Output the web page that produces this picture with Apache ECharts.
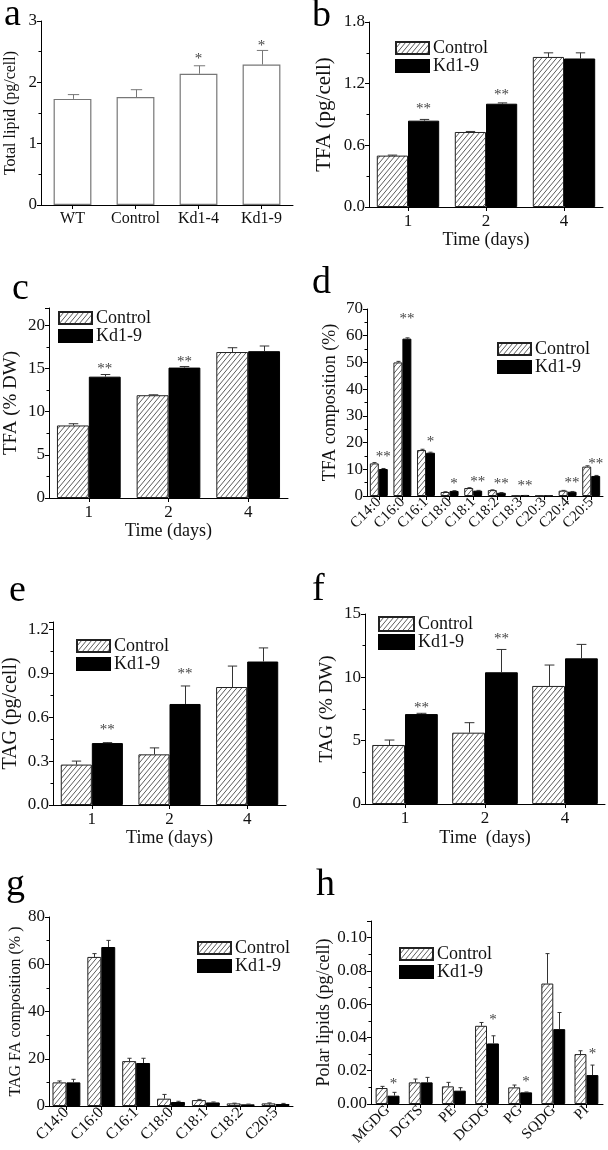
<!DOCTYPE html>
<html><head><meta charset="utf-8">
<script src="https://cdn.jsdelivr.net/npm/echarts@6/dist/echarts.min.js"></script>
<style>html,body{margin:0;padding:0;background:#fff}#c{width:608px;height:1150px}</style>
</head><body><div id="c"></div>
<script>
// ---------------- DATA ----------------
// a: total lipid
const catsA = ['WT', 'Control', 'Kd1-4', 'Kd1-9'];
const lipidA = [1.73, 1.76, 2.14, 2.29];
const lipidASd = [0.07, 0.12, 0.13, 0.23];
const sigA = ['', '', '*', '*'];
const sigAY = [null, null, 2.45, 2.66];

const days = ['1', '2', '4'];
// b: TFA (pg/cell)
const tfaCellCtrl = [0.50, 0.73, 1.46];
const tfaCellCtrlSd = [0.005, 0.005, 0.04];
const tfaCellKd = [0.84, 1.005, 1.445];
const tfaCellKdSd = [0.012, 0.008, 0.055];
const sigB = ['**', '**', ''];
const sigBY = [0.99, 1.13, null];
// c: TFA (% DW)
const tfaDwCtrl = [8.4, 11.9, 16.9];
const tfaDwCtrlSd = [0.2, 0.05, 0.5];
const tfaDwKd = [14.05, 15.1, 17.0];
const tfaDwKdSd = [0.25, 0.12, 0.6];
const sigC = ['**', '**', ''];
const sigCY = [15.4, 16.15, null];
// d: TFA composition
const faCats = ['C14:0', 'C16:0', 'C16:1', 'C18:0', 'C18:1', 'C18:2', 'C18:3', 'C20:3', 'C20:4', 'C20:5'];
const tfaCompCtrl = [12.2, 50.0, 17.2, 1.5, 3.0, 2.2, 0.1, 0.1, 2.0, 11.0];
const tfaCompCtrlSd = [0.3, 0.4, 0.3, 0.1, 0.1, 0.1, 0.02, 0.02, 0.1, 0.3];
const tfaCompKd = [10.1, 58.9, 16.2, 1.9, 2.0, 1.2, 0.2, 0.1, 1.6, 7.5];
const tfaCompKdSd = [0.2, 0.3, 0.2, 0.1, 0.1, 0.1, 0.02, 0.02, 0.1, 0.2];
const sigD = ['**', '**', '*', '*', '**', '**', '**', '', '**', '**'];
const sigDY = [16, 67.9, 21.6, 6, 6.6, 6, 5.4, null, 6.25, 13.5];
// e: TAG (pg/cell)
const tagCellCtrl = [0.276, 0.346, 0.806];
const tagCellCtrlSd = [0.024, 0.044, 0.143];
const tagCellKd = [0.423, 0.69, 0.98];
const tagCellKdSd = [0.003, 0.123, 0.093];
const sigE = ['**', '**', ''];
const sigEY = [0.54, 0.92, null];
// f: TAG (% DW)
const tagDwCtrl = [4.66, 5.63, 9.32];
const tagDwCtrlSd = [0.39, 0.79, 1.65];
const tagDwKd = [7.1, 10.4, 11.5];
const tagDwKdSd = [0.06, 1.8, 1.1];
const sigF = ['**', '**', ''];
const sigFY = [7.9, 13.3, null];
// g: TAG FA composition
const tagFaCats = ['C14:0', 'C16:0', 'C16:1', 'C18:0', 'C18:1', 'C18:2', 'C20:5'];
const tagFaCtrl = [10.0, 63.1, 19.0, 3.1, 2.5, 1.1, 1.1];
const tagFaCtrlSd = [0.6, 1.4, 1.2, 1.8, 0.3, 0.1, 0.2];
const tagFaKd = [10.0, 67.3, 18.2, 1.7, 1.5, 0.7, 0.85];
const tagFaKdSd = [1.3, 2.8, 2.0, 0.3, 0.2, 0.1, 0.25];
// h: polar lipids
const polarCats = ['MGDG', 'DGTS', 'PE', 'DGDG', 'PG', 'SQDG', 'PI'];
const polarCtrl = [0.0096, 0.013, 0.0106, 0.047, 0.010, 0.0724, 0.030];
const polarCtrlSd = [0.001, 0.002, 0.0024, 0.002, 0.0014, 0.018, 0.002];
const polarKd = [0.005, 0.013, 0.008, 0.0364, 0.007, 0.045, 0.0174];
const polarKdSd = [0.002, 0.003, 0.0018, 0.0046, 0.0002, 0.010, 0.006];
const sigH = ['*', '', '', '*', '*', '', '*'];
const sigHY = [0.0144, null, null, 0.053, 0.0154, null, 0.0324];

// ---------------- STYLE / BUILD ----------------
const FONT = '"Liberation Serif", "Times New Roman", serif';
const TXT = '#111';

function hatchCanvas() {
  const w = 5, h = 6;
  const c = document.createElement('canvas');
  c.width = w; c.height = h;
  const g = c.getContext('2d');
  g.fillStyle = '#fff'; g.fillRect(0, 0, w, h);
  g.strokeStyle = '#4a4a4a'; g.lineWidth = 0.9;
  g.beginPath();
  [-w, 0, w].forEach(dx => { g.moveTo(dx, h); g.lineTo(dx + w, 0); });
  g.stroke();
  return c;
}
const HATCH = { image: hatchCanvas(), repeat: 'repeat' };
const ctrlStyle = { color: HATCH, borderColor: '#222', borderWidth: 1 };
const kdStyle = { color: '#000', borderColor: '#000', borderWidth: 1 };
const whiteStyle = { color: '#fff', borderColor: '#777', borderWidth: 1.2 };

const option = {
  animation: false, backgroundColor: '#fff',
  grid: [], xAxis: [], yAxis: [], series: [], legend: [], graphic: []
};

function errSeries(idx, vals, sds, off, n, gapFrac, col) {
  return {
    type: 'custom', xAxisIndex: idx, yAxisIndex: idx, silent: true, z: 5,
    data: vals.map((v, k) => [k, v, v + sds[k]]),
    encode: { x: 0, y: [1, 2] },
    renderItem: function (params, api) {
      const k = api.value(0), v = api.value(1), t = api.value(2);
      const catW = api.size([1, 0])[0];
      const barW = catW * (1 - gapFrac) / n;
      const p0 = api.coord([k, v]), p1 = api.coord([k, t]);
      const cx = Math.round(p0[0] + off * barW) + 0.5;
      const hw = Math.max(2, barW * 0.15);
      return {
        type: 'group', children: [
          { type: 'line', shape: { x1: cx, y1: p0[1], x2: cx, y2: p1[1] }, style: { stroke: col, lineWidth: 1 } },
          { type: 'line', shape: { x1: cx - hw, y1: p1[1], x2: cx + hw, y2: p1[1] }, style: { stroke: col, lineWidth: 1 } }
        ]
      };
    }
  };
}

function sigSeries(idx, labels, ys, off, n, gapFrac) {
  const data = [];
  ys.forEach((y, k) => { if (y != null && labels[k]) data.push([k, y]); });
  return {
    type: 'custom', xAxisIndex: idx, yAxisIndex: idx, silent: true, z: 6,
    data: data, encode: { x: 0, y: 1 },
    renderItem: function (params, api) {
      const k = api.value(0), y = api.value(1);
      const catW = api.size([1, 0])[0];
      const barW = catW * (1 - gapFrac) / n;
      const p = api.coord([k, y]);
      return {
        type: 'text', x: p[0] + off * barW, y: p[1] + 4,
        style: { text: labels[k], font: '15px ' + FONT, fill: '#444', align: 'center', verticalAlign: 'middle' }
      };
    }
  };
}

function panel(p) {
  const idx = option.grid.length;
  option.grid.push({ left: p.grid[0], top: p.grid[1], width: p.grid[2], height: p.grid[3], containLabel: false });
  option.xAxis.push({
    type: 'category', gridIndex: idx, data: p.cats,
    axisLine: { show: true, lineStyle: { color: '#000', width: 1 } },
    axisTick: { show: true, alignWithLabel: true, length: 4, lineStyle: { color: '#000' } },
    axisLabel: { interval: 0, margin: p.xMargin || 6, rotate: p.rotate || 0, fontFamily: FONT, fontSize: p.xFont || 17, color: TXT },
    name: p.xName || '', nameLocation: 'middle', nameGap: p.xNameGap || 24,
    nameTextStyle: { fontFamily: FONT, fontSize: 18, color: TXT }
  });
  option.yAxis.push({
    type: 'value', gridIndex: idx, min: 0, max: p.max, interval: p.interval,
    axisLine: { show: true, lineStyle: { color: '#000', width: 1 } },
    axisTick: { show: true, inside: false, length: 4, lineStyle: { color: '#000' } },
    minorTick: { show: true, splitNumber: 2, length: 2.5, lineStyle: { color: '#000' } },
    splitLine: { show: false }, minorSplitLine: { show: false },
    axisLabel: {
      margin: 4, fontFamily: FONT, fontSize: 17, color: TXT,
      showMaxLabel: p.hideMax ? false : null,
      formatter: v => v.toFixed(p.dec)
    },
    name: p.yName, nameLocation: 'middle', nameRotate: 90, nameGap: p.yNameGap,
    nameTextStyle: { fontFamily: FONT, fontSize: p.yNameSize || 17, color: TXT }
  });
  const n = p.bars.length;
  const gapFrac = p.gap / 100;
  p.bars.forEach((b, j) => {
    option.series.push({
      type: 'bar', name: b.name, xAxisIndex: idx, yAxisIndex: idx,
      data: b.data, barGap: '0%', barCategoryGap: p.gap + '%',
      itemStyle: b.style, emphasis: { disabled: true }
    });
    const off = n === 1 ? 0 : (j === 0 ? -0.5 : 0.5);
    option.series.push(errSeries(idx, b.data, b.sd, off, n, gapFrac, b.errColor || '#333'));
  });
  if (p.sig) option.series.push(sigSeries(idx, p.sig, p.sigY, n === 1 ? 0 : 0.5, n, gapFrac));
  if (p.legend) {
    option.legend.push({
      left: p.legend[0], top: p.legend[1], orient: 'vertical', padding: 0, itemGap: 0,
      icon: 'rect',
      itemWidth: p.legend[2] || 33, itemHeight: p.legend[3] || 12,
      selectedMode: false, data: ['Control', 'Kd1-9'],
      textStyle: { fontFamily: FONT, fontSize: 18, color: TXT, padding: [0, 0, 0, -1] }
    });
  }
  option.graphic.push({
    type: 'text', left: p.letter[1], top: p.letter[2],
    style: { text: p.letter[0], font: '38px ' + FONT, fill: '#000' }
  });
}

panel({
  letter: ['a', 4, -4], grid: [41, 21, 252, 184], cats: catsA, max: 3, interval: 1, dec: 0,
  yName: 'Total lipid (pg/cell)', yNameGap: 22, yNameSize: 16, xFont: 16, gap: 40,
  bars: [{ name: 'Total lipid', data: lipidA, sd: lipidASd, style: whiteStyle, errColor: '#777' }],
  sig: sigA, sigY: sigAY
});
panel({
  letter: ['b', 312, -3], grid: [369, 22, 234, 185], cats: days, max: 1.8, interval: 0.6, dec: 1,
  yName: 'TFA (pg/cell)', yNameGap: 34, yNameSize: 21, xName: 'Time (days)', xNameGap: 22, gap: 20,
  bars: [{ name: 'Control', data: tfaCellCtrl, sd: tfaCellCtrlSd, style: ctrlStyle },
         { name: 'Kd1-9', data: tfaCellKd, sd: tfaCellKdSd, style: kdStyle }],
  sig: sigB, sigY: sigBY, legend: [395, 39]
});
panel({
  letter: ['c', 12, 270], grid: [49, 308, 239, 190], cats: days, max: 22, interval: 5, dec: 0, hideMax: true,
  yName: 'TFA (% DW)', yNameGap: 28, yNameSize: 19, xName: 'Time (days)', xNameGap: 22, gap: 20,
  bars: [{ name: 'Control', data: tfaDwCtrl, sd: tfaDwCtrlSd, style: ctrlStyle },
         { name: 'Kd1-9', data: tfaDwKd, sd: tfaDwKdSd, style: kdStyle }],
  sig: sigC, sigY: sigCY, legend: [58, 309]
});
panel({
  letter: ['d', 312, 264], grid: [367, 309, 236, 187], cats: faCats, max: 70, interval: 10, dec: 0,
  yName: 'TFA composition (%)', yNameGap: 28, yNameSize: 18, xFont: 15, rotate: 45, xMargin: 4, gap: 24,
  bars: [{ name: 'Control', data: tfaCompCtrl, sd: tfaCompCtrlSd, style: ctrlStyle },
         { name: 'Kd1-9', data: tfaCompKd, sd: tfaCompKdSd, style: kdStyle }],
  sig: sigD, sigY: sigDY, legend: [497, 340]
});
panel({
  letter: ['e', 9, 572], grid: [52, 622, 234, 183], cats: days, max: 1.25, interval: 0.3, dec: 1, hideMax: true,
  yName: 'TAG (pg/cell)', yNameGap: 32, yNameSize: 20, xName: 'Time (days)', xNameGap: 22, gap: 20,
  bars: [{ name: 'Control', data: tagCellCtrl, sd: tagCellCtrlSd, style: ctrlStyle },
         { name: 'Kd1-9', data: tagCellKd, sd: tagCellKdSd, style: kdStyle }],
  sig: sigE, sigY: sigEY, legend: [76, 637]
});
panel({
  letter: ['f', 312, 571], grid: [365, 614, 240, 190], cats: days, max: 15, interval: 5, dec: 0,
  yName: 'TAG (% DW)', yNameGap: 28, yNameSize: 19, xName: 'Time  (days)', xNameGap: 25, gap: 18,
  bars: [{ name: 'Control', data: tagDwCtrl, sd: tagDwCtrlSd, style: ctrlStyle },
         { name: 'Kd1-9', data: tagDwKd, sd: tagDwKdSd, style: kdStyle }],
  sig: sigF, sigY: sigFY, legend: [378, 615, 35, 14]
});
panel({
  letter: ['g', 6, 866], grid: [49, 917, 244, 189], cats: tagFaCats, max: 80, interval: 20, dec: 0,
  yName: 'TAG FA composition (% )', yNameGap: 24, yNameSize: 16, xFont: 16, rotate: 45, xMargin: 4, gap: 20,
  bars: [{ name: 'Control', data: tagFaCtrl, sd: tagFaCtrlSd, style: ctrlStyle },
         { name: 'Kd1-9', data: tagFaKd, sd: tagFaKdSd, style: kdStyle }],
  legend: [197, 939]
});
panel({
  letter: ['h', 316, 866], grid: [371, 921, 232, 183], cats: polarCats, max: 0.11, interval: 0.02, dec: 2, hideMax: true,
  yName: 'Polar lipids (pg/cell)', yNameGap: 36, yNameSize: 18, xFont: 15, rotate: 45, xMargin: 4, gap: 28,
  bars: [{ name: 'Control', data: polarCtrl, sd: polarCtrlSd, style: ctrlStyle },
         { name: 'Kd1-9', data: polarKd, sd: polarKdSd, style: kdStyle }],
  sig: sigH, sigY: sigHY, legend: [399, 945]
});

const chart = echarts.init(document.getElementById('c'), null, { renderer: 'canvas' });
chart.setOption(option);
</script>
</body></html>
